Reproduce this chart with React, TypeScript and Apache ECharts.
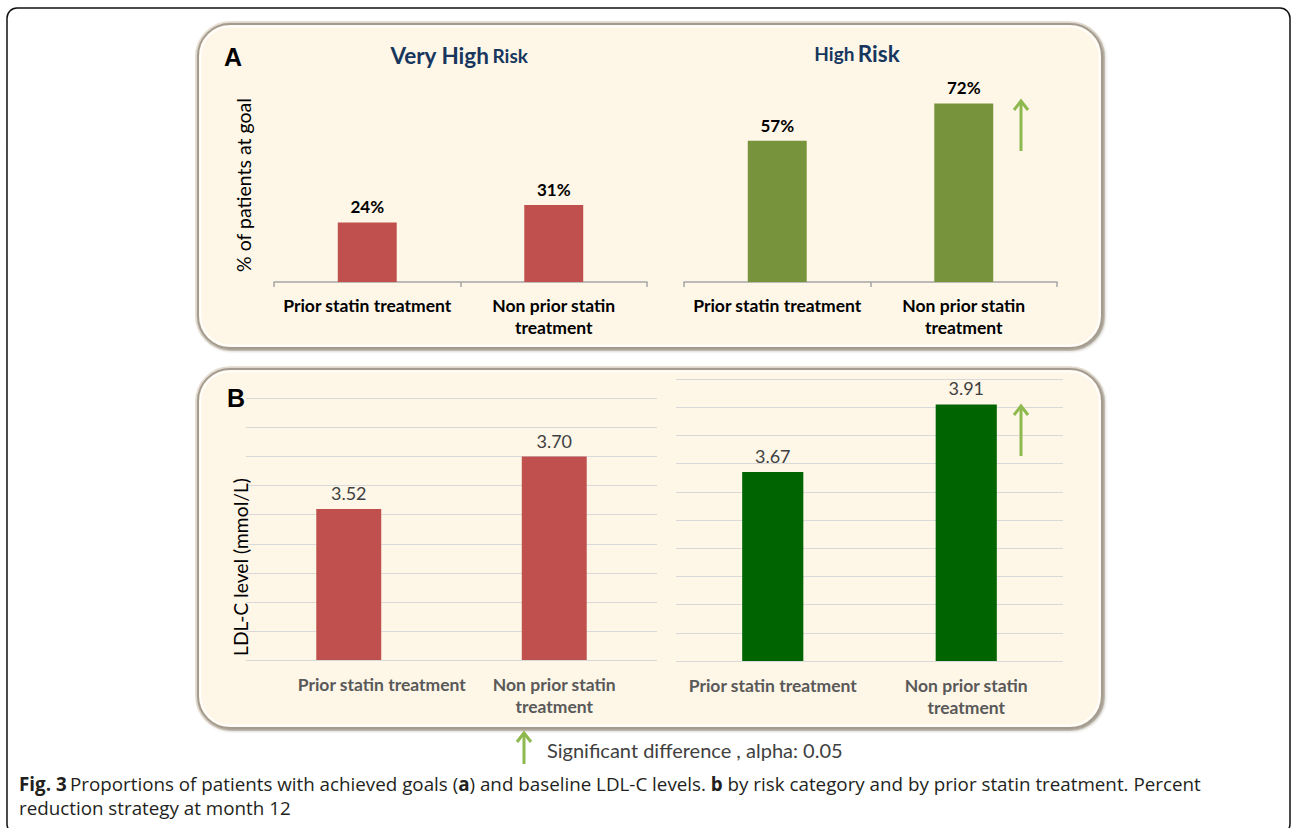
import React, { useEffect, useRef } from "react";
import * as echarts from "echarts";

const categories = ["Prior statin treatment", "Non prior statin treatment"];
const veryHighGoalPct = [24, 31];
const highGoalPct = [57, 72];
const veryHighLdl = [3.52, 3.7];
const highLdl = [3.67, 3.91];

const FONT = "Lato, 'Open Sans', sans-serif";
const CREAM = "#FEF6E7";
const RED = "#C0504D";
const OLIVE = "#77933C";
const DKGREEN = "#006400";
const ARROW = "#8DB94E";

const wrapCat = (v: string) =>
  v === "Non prior statin treatment" ? "Non prior statin\ntreatment" : v;

function arrow(x: number, y1: number, y2: number) {
  return [
    {
      type: "line",
      z: 30,
      shape: { x1: x, y1: y1 + 2, x2: x, y2 },
      style: { stroke: ARROW, lineWidth: 3 },
    },
    {
      type: "polyline",
      z: 30,
      shape: { points: [[x - 7, y1 + 10], [x, y1 + 1], [x + 7, y1 + 10]] },
      style: { stroke: ARROW, lineWidth: 3, fill: null },
    },
  ];
}

function panel(x: number, y: number, w: number, h: number) {
  return [
    {
      type: "rect",
      z: 0,
      shape: { x: x - 1.5, y: y - 1.5, width: w + 3, height: h + 3, r: 34 },
      style: { fill: "none", stroke: "#E9E1D6", lineWidth: 3 },
    },
    {
      type: "rect",
      z: 1,
      shape: { x, y, width: w, height: h, r: 32 },
      style: {
        fill: CREAM,
        stroke: "#A39B90",
        lineWidth: 2,
        shadowBlur: 3,
        shadowColor: "rgba(60,50,40,0.45)",
        shadowOffsetX: 1.5,
        shadowOffsetY: 1.5,
      },
    },
    {
      type: "rect",
      z: 2,
      shape: { x: x + 2.5, y: y + 2.5, width: w - 5, height: h - 5, r: 30 },
      style: { fill: "none", stroke: "#FFFFFF", lineWidth: 1.5 },
    },
  ];
}

export default function App() {
  const ref = useRef<HTMLDivElement>(null);

  useEffect(() => {
    if (!ref.current) return;
    const chart = echarts.init(ref.current, null, { renderer: "svg" });

    const gridsA = [
      { left: 274, width: 373, top: 34, height: 248 },
      { left: 684, width: 373, top: 34, height: 248 },
    ];
    const gridsB = [
      { left: 246, width: 411, top: 398.5, height: 261.5 },
      { left: 676, width: 387, top: 379, height: 282 },
    ];

    const xA = (gi: number) => ({
      type: "category",
      gridIndex: gi,
      data: categories,
      z: 10,
      axisLine: { show: true, lineStyle: { color: "#A6A6A6", width: 1.5 } },
      axisTick: { show: true, length: 5, lineStyle: { color: "#A6A6A6", width: 1.5 } },
      axisLabel: {
        formatter: wrapCat,
        color: "#000000",
        fontFamily: FONT,
        fontWeight: "bold",
        fontSize: 17.5,
        lineHeight: 22,
        margin: 12,
        interval: 0,
      },
    });
    const xB = (gi: number, shiftFirst: number) => ({
      type: "category",
      gridIndex: gi,
      data: categories.map((c, i) =>
        i === 0 && shiftFirst
          ? { value: c, textStyle: { padding: [0, 0, 0, shiftFirst * 2] } }
          : c
      ),
      z: 10,
      axisLine: { show: false },
      axisTick: { show: false },
      axisLabel: {
        formatter: wrapCat,
        color: "#595959",
        fontFamily: FONT,
        fontWeight: "bold",
        fontSize: 17.5,
        lineHeight: 22,
        margin: 13,
        interval: 0,
      },
    });
    const yA = (gi: number) => ({
      type: "value",
      gridIndex: gi,
      min: 0,
      max: 100,
      z: 10,
      axisLine: { show: false },
      axisTick: { show: false },
      axisLabel: { show: false },
      splitLine: { show: false },
    });
    const yB = (gi: number, max: number) => ({
      type: "value",
      gridIndex: gi,
      min: 3,
      max,
      interval: 0.1,
      z: 10,
      axisLine: { show: false },
      axisTick: { show: false },
      axisLabel: { show: false },
      splitLine: { show: true, lineStyle: { color: "#D9D9D9", width: 1.2 } },
    });

    const barA = (gi: number, data: number[], color: string) => ({
      type: "bar",
      xAxisIndex: gi,
      yAxisIndex: gi,
      data,
      z: 12,
      barWidth: "31.6%",
      itemStyle: { color },
      label: {
        show: true,
        position: "top",
        distance: 7,
        formatter: (p: any) => `${p.value}%`,
        color: "#000000",
        fontFamily: FONT,
        fontWeight: "bold",
        fontSize: 17,
      },
    });
    const barB = (gi: number, data: number[], color: string) => ({
      type: "bar",
      xAxisIndex: gi,
      yAxisIndex: gi,
      data,
      z: 12,
      barWidth: "31.6%",
      itemStyle: { color },
      label: {
        show: true,
        position: "top",
        distance: 7,
        formatter: (p: any) => Number(p.value).toFixed(2),
        color: "#404040",
        fontFamily: FONT,
        fontSize: 18,
      },
    });

    const titleRich = {
      a: { fontFamily: FONT, fontWeight: "bold", fontSize: 22.5, fill: "#17375E", color: "#17375E" },
      b: { fontFamily: FONT, fontWeight: "bold", fontSize: 19, fill: "#17375E", color: "#17375E" },
    };

    const graphics: any[] = [
      {
        type: "rect",
        z: 0,
        shape: { x: 7, y: 8, width: 1283, height: 826, r: 10 },
        style: { fill: "#FFFFFF", stroke: "#111111", lineWidth: 1.5 },
      },
      ...panel(198, 24, 904, 324),
      ...panel(198, 369, 904, 359),
      {
        type: "text",
        z: 30,
        style: {
          text: "A",
          x: 233,
          y: 57,
          align: "center",
          verticalAlign: "middle",
          font: "bold 25px 'Liberation Sans', Arial, sans-serif",
          fill: "#000000",
        },
      },
      {
        type: "text",
        z: 30,
        style: {
          text: "B",
          x: 236,
          y: 398,
          align: "center",
          verticalAlign: "middle",
          font: "bold 25px 'Liberation Sans', Arial, sans-serif",
          fill: "#000000",
        },
      },
      {
        type: "text",
        z: 30,
        style: {
          text: "{a|Very High} {b|Risk}",
          x: 459,
          y: 55,
          align: "center",
          verticalAlign: "middle",
          rich: titleRich,
        },
      },
      {
        type: "text",
        z: 30,
        style: {
          text: "{b|High} {a|Risk}",
          x: 857,
          y: 53,
          align: "center",
          verticalAlign: "middle",
          rich: titleRich,
        },
      },
      {
        type: "text",
        z: 30,
        x: 243,
        y: 185,
        rotation: Math.PI / 2,
        style: {
          text: "% of patients at goal",
          x: 0,
          y: 0,
          align: "center",
          verticalAlign: "middle",
          font: `19.5px ${FONT}`,
          fill: "#000000",
        },
      },
      {
        type: "text",
        z: 30,
        x: 240,
        y: 567,
        rotation: Math.PI / 2,
        style: {
          text: "LDL-C level (mmol/L)",
          x: 0,
          y: 0,
          align: "center",
          verticalAlign: "middle",
          font: `19.3px ${FONT}`,
          fill: "#000000",
        },
      },
      ...arrow(1021, 100, 151),
      ...arrow(1021, 405, 456),
      ...arrow(524, 732, 764),
      {
        type: "text",
        z: 30,
        style: {
          text: "Significant difference , alpha: 0.05",
          x: 547,
          y: 750,
          align: "left",
          verticalAlign: "middle",
          font: `20px ${FONT}`,
          fill: "#404040",
        },
      },
      {
        type: "text",
        z: 30,
        style: {
          text:
            "{b|Fig. 3} {n|Proportions of patients with achieved goals (}{b|a}{n|) and baseline LDL-C levels. }{b|b}{n| by risk category and by prior statin treatment. Percent}",
          x: 19,
          y: 784,
          align: "left",
          verticalAlign: "middle",
          rich: {
            b: { fontFamily: "'Open Sans', sans-serif", fontWeight: "bold", fontSize: 18.8, fill: "#231F20", color: "#231F20" },
            n: { fontFamily: "'Open Sans', sans-serif", fontSize: 18.8, fill: "#231F20", color: "#231F20" },
          },
        },
      },
      {
        type: "text",
        z: 30,
        style: {
          text: "reduction strategy at month 12",
          x: 19,
          y: 808,
          align: "left",
          verticalAlign: "middle",
          font: "18.8px 'Open Sans', sans-serif",
          fill: "#231F20",
        },
      },
    ];

    chart.setOption({
      animation: false,
      backgroundColor: "#FFFFFF",
      grid: [...gridsA, ...gridsB],
      xAxis: [xA(0), xA(1), xB(2, 33), xB(3, 0)],
      yAxis: [yA(0), yA(1), yB(2, 3.9), yB(3, 4.0)],
      series: [
        barA(0, veryHighGoalPct, RED),
        barA(1, highGoalPct, OLIVE),
        barB(2, veryHighLdl, RED),
        barB(3, highLdl, DKGREEN),
      ],
      graphic: { elements: graphics },
    });

    return () => chart.dispose();
  }, []);

  return (
    <div
      ref={ref}
      style={{ position: "absolute", left: 0, top: 0, width: 1292, height: 828 }}
    />
  );
}
